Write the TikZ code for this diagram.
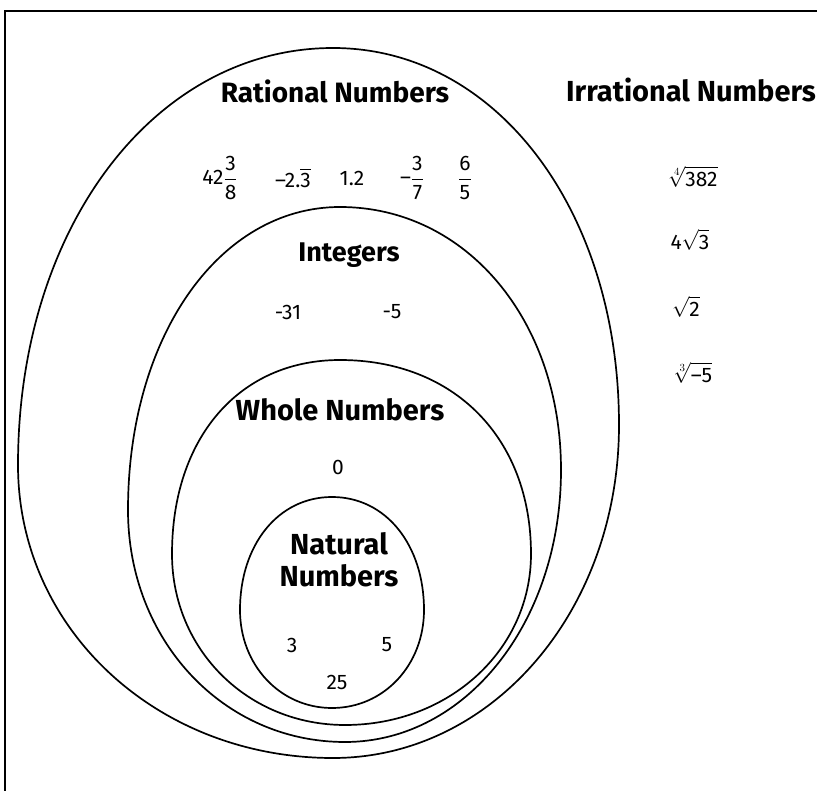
\documentclass[tikz,border=0pt]{standalone}
\usepackage{amsmath}
\usepackage{fontspec}
\setmainfont{Fira Sans}
\begin{document}
\begin{tikzpicture}[x=1pt,y=-1pt,
  ring/.style={draw=black,line width=1.7pt},
  setlabel/.style={font=\fontsize{29}{32}\selectfont\bfseries,inner sep=0pt},
  num/.style={font=\fontsize{21}{24}\selectfont,inner sep=0pt}]
\useasboundingbox (0,0) rectangle (817,791);
\draw[line width=2pt] (5,791) -- (5,11) -- (817,11);
% rational set
\draw[ring] (333,48) .. controls (496,48) and (619,210) .. (619,425)
  .. controls (619,611) and (492,758) .. (333,758)
  .. controls (157,758) and (18,629) .. (18,465)
  .. controls (18,227) and (155,48) .. (333,48) -- cycle;
% integers set
\draw[ring] (340,207) .. controls (466,207) and (561,320) .. (561,470)
  .. controls (561,622) and (466,742) .. (345,742)
  .. controls (223,742) and (128,640) .. (128,510)
  .. controls (128,337) and (219,207) .. (340,207) -- cycle;
% whole set
\draw[ring] (340,360) .. controls (454,360) and (531,438) .. (531,554)
  .. controls (531,650) and (449,725) .. (345,725)
  .. controls (248,725) and (172,650) .. (172,554)
  .. controls (172,438) and (239,360) .. (340,360) -- cycle;
% natural set
\draw[ring] (332,497) .. controls (386,497) and (424,545) .. (424,610)
  .. controls (424,665) and (384,708) .. (332,708)
  .. controls (280,708) and (240,665) .. (240,610)
  .. controls (240,545) and (278,497) .. (332,497) -- cycle;
% labels
\node[setlabel,font=\fontsize{28}{31}\selectfont\bfseries] (lrat) at (335,91) {Rational Numbers};
\node[setlabel] (lirr) at (691,90) {Irrational Numbers};
\node[setlabel,font=\fontsize{27}{30}\selectfont\bfseries] (lint) at (349,255) {Integers};
\node[setlabel] (lwho) at (340,410) {Whole Numbers};
\node[setlabel,align=center] (lnat) at (339,560) {Natural\\[0pt]Numbers};
% rational examples
\node[num] (r1) at (220,178) {42$\dfrac{\text{3}}{\text{8}}$};
\node[num] (r2) at (293,178) {–2.$\overline{\text{3}}$};
\node[num] (r3) at (352,178) {1.2};
\node[num] (r4) at (412,178) {–$\dfrac{\text{3}}{\text{7}}$};
\node[num] (r5) at (465,178) {$\dfrac{\text{6}}{\text{5}}$};
% integers
\node[num] (i1) at (288,312) {-31};
\node[num] (i2) at (392,312) {-5};
% whole
\node[num] (w1) at (338,467) {0};
% natural
\node[num] (n1) at (292,645) {3};
\node[num] (n2) at (387,645) {5};
\node[num] (n3) at (337,682) {25};
% irrational
\node[num] (q1) at (693,177) {$\displaystyle\sqrt[4]{\text{382}}$};
\node[num] (q2) at (690,240) {4$\displaystyle\sqrt{\text{3}}$};
\node[num] (q3) at (686,307) {$\displaystyle\sqrt{\text{2}}$};
\node[num] (q4) at (693,373) {$\displaystyle\sqrt[3]{\text{–5}}$};
\end{tikzpicture}
\end{document}
